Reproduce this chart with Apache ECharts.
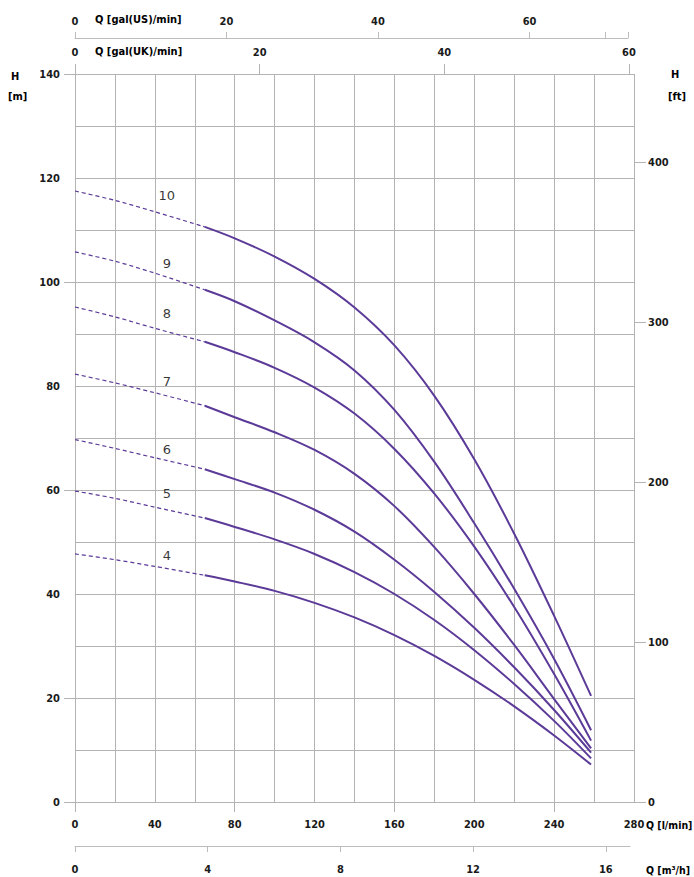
<!DOCTYPE html>
<html>
<head>
<meta charset="utf-8">
<title>Pump performance curves</title>
<script src="https://cdn.jsdelivr.net/npm/echarts@6/dist/echarts.min.js"></script>
<style>
  html, body { margin: 0; padding: 0; background: #fff; }
  #chart { width: 694px; height: 877px; }
</style>
</head>
<body>
<div id="chart"></div>
<script>
// flow points in l/min: dashed start section and solid working section
const dashFlow = [0, 20, 40, 65]
const solidFlow = [65, 80, 100, 120, 140, 160, 180, 200, 220, 240, 258.5]

// head in m for every curve (number of stages)
const curveNames = ['4', '5', '6', '7', '8', '9', '10']
const dashHeads = [
  [47.7, 46.6, 45.3, 43.6],
  [59.8, 58.4, 56.7, 54.6],
  [69.7, 68.0, 66.2, 64.0],
  [82.3, 80.6, 78.7, 76.2],
  [95.2, 93.3, 91.1, 88.5],
  [105.8, 104.0, 101.7, 98.5],
  [117.5, 115.7, 113.5, 110.6]
]
const solidHeads = [
  [43.6, 42.4, 40.6, 38.3, 35.5, 32.1, 28.1, 23.5, 18.4, 12.8, 7.2],
  [54.6, 52.9, 50.5, 47.7, 44.2, 40.0, 35.0, 29.2, 22.7, 15.6, 8.4],
  [64.0, 62.1, 59.5, 56.2, 52.0, 46.6, 40.4, 33.5, 25.9, 17.7, 9.5],
  [76.2, 74.0, 71.1, 67.7, 63.1, 56.9, 49.0, 40.0, 30.2, 19.8, 10.3],
  [88.5, 86.5, 83.5, 79.7, 74.7, 67.9, 59.3, 49.1, 37.5, 24.6, 11.8],
  [98.5, 96.3, 92.6, 88.4, 83.0, 75.4, 65.4, 53.6, 41.0, 27.5, 13.8],
  [110.6, 108.4, 104.9, 100.6, 95.1, 87.8, 78.1, 65.9, 51.6, 35.8, 20.4]
]
// where the curve numbers sit (l/min, m)
const labelFlow = [46, 46, 46, 46, 46, 46, 46]
const labelHead = [47.5, 59.4, 67.8, 80.8, 94.0, 103.6, 116.6]

// axis tick / label values
const lpmLabels = [0, 40, 80, 120, 160, 200, 240, 280]
const lpmTicks = [0, 80, 160, 240]
const mLabels = [0, 20, 40, 60, 80, 100, 120, 140]
const mTicks = [0, 20, 60, 100, 140]
const ftTicks = [0, 100, 200, 300, 400]
const galUsLabels = [0, 20, 40, 60]
const galUsTicks = [0, 20, 40, 60, 70, 73]
const galUkTicks = [0, 20, 40, 60]
const m3hTicks = [0, 4, 8, 12, 16]

const FONT = "'Liberation Sans Narrow', 'DejaVu Sans Condensed', sans-serif"
const GRID_COLOR = '#b3b3b3'
const CURVE_COLOR = '#5b3a98'

const labelStyle = {
  fontFamily: FONT,
  fontSize: 11,
  fontWeight: 'bold',
  color: '#1a1a1a'
}
const nameStyle = Object.assign({}, labelStyle, { fontSize: 10.5 })

const chart = echarts.init(document.getElementById('chart'), null, { renderer: 'svg' })

const series = []
curveNames.forEach((name, i) => {
  series.push({
    name: name + ' dashed',
    type: 'line',
    xAxisIndex: 0,
    yAxisIndex: 0,
    showSymbol: false,
    smooth: 0.3,
    lineStyle: { color: CURVE_COLOR, width: 1.2, type: [4, 3] },
    data: dashFlow.map((q, k) => [q, dashHeads[i][k]])
  })
  series.push({
    name: name,
    type: 'line',
    xAxisIndex: 0,
    yAxisIndex: 0,
    showSymbol: false,
    smooth: 0.35,
    lineStyle: { color: CURVE_COLOR, width: 2 },
    data: solidFlow.map((q, k) => [q, solidHeads[i][k]])
  })
})
series.push({
  type: 'scatter',
  xAxisIndex: 0,
  yAxisIndex: 0,
  symbolSize: 1,
  itemStyle: { color: 'transparent' },
  label: {
    show: true,
    position: 'inside',
    fontFamily: "'DejaVu Sans', sans-serif",
    fontSize: 13,
    color: '#000',
    textBorderWidth: 0,
    formatter: p => p.value[2]
  },
  data: curveNames.map((n, i) => [labelFlow[i], labelHead[i], n])
})

const hiddenY = (gridIndex) => ({
  type: 'value', gridIndex: gridIndex, show: false, min: 0, max: 1
})

const option = {
  animation: false,
  backgroundColor: '#fff',
  grid: [
    // main plot
    { left: 75, top: 74, width: 559, height: 728 },
    // gal(US) axis line on top
    { left: 75, top: 37, width: 553, height: 1 },
    // gal(UK) ticks on the plot top edge
    { left: 75, top: 74, width: 554, height: 1 },
    // m3/h axis below
    { left: 75, top: 845, width: 555, height: 1 },
    // background grid lines, same box as the main plot
    { left: 75, top: 74, width: 559, height: 728 }
  ],
  xAxis: [
    {
      type: 'value',
      gridIndex: 0,
      position: 'bottom',
      min: 0,
      max: 280,
      interval: 20,
      axisLine: { show: true, lineStyle: { color: GRID_COLOR, width: 1 } },
      axisTick: { show: true, length: 10, customValues: lpmTicks, lineStyle: { color: GRID_COLOR } },
      axisLabel: Object.assign({ margin: 17, customValues: lpmLabels }, labelStyle),
      splitLine: { show: false }
    },
    {
      type: 'value',
      gridIndex: 1,
      position: 'top',
      min: 0,
      max: 73,
      axisLine: { show: true, lineStyle: { color: '#bcbcbc', width: 1 } },
      axisTick: { show: true, length: 6, customValues: galUsTicks, lineStyle: { color: '#bcbcbc' } },
      axisLabel: Object.assign({ margin: 10, customValues: galUsLabels }, labelStyle),
      splitLine: { show: false }
    },
    {
      type: 'value',
      gridIndex: 2,
      position: 'top',
      min: 0,
      max: 60,
      axisLine: { show: false },
      axisTick: { show: true, length: 11, customValues: galUkTicks, lineStyle: { color: GRID_COLOR } },
      axisLabel: Object.assign({ margin: 16, customValues: galUkTicks }, labelStyle),
      splitLine: { show: false }
    },
    {
      type: 'value',
      gridIndex: 3,
      position: 'bottom',
      min: 0,
      max: 16.73,
      axisLine: { show: true, lineStyle: { color: '#bcbcbc', width: 1 } },
      axisTick: { show: true, length: 6, customValues: m3hTicks, lineStyle: { color: '#bcbcbc' } },
      axisLabel: Object.assign({ margin: 18, customValues: m3hTicks }, labelStyle),
      splitLine: { show: false }
    },
    // vertical grid lines every 20 l/min
    {
      type: 'value',
      gridIndex: 4,
      min: 0,
      max: 280,
      interval: 20,
      axisLine: { show: false },
      axisTick: { show: false },
      axisLabel: { show: false },
      splitLine: { show: true, lineStyle: { color: GRID_COLOR, width: 1 } }
    }
  ],
  yAxis: [
    {
      type: 'value',
      gridIndex: 0,
      position: 'left',
      min: 0,
      max: 140,
      interval: 10,
      axisLine: { show: true, lineStyle: { color: GRID_COLOR, width: 1 } },
      axisTick: { show: true, length: 11, customValues: mTicks, lineStyle: { color: GRID_COLOR } },
      axisLabel: Object.assign({ margin: 15, customValues: mLabels }, labelStyle),
      splitLine: { show: false }
    },
    {
      type: 'value',
      gridIndex: 0,
      position: 'right',
      min: 0,
      max: 455,
      axisLine: { show: false },
      axisTick: { show: true, length: 12, customValues: ftTicks, lineStyle: { color: GRID_COLOR } },
      axisLabel: Object.assign({ margin: 14, customValues: ftTicks }, labelStyle),
      splitLine: { show: false }
    },
    hiddenY(1),
    hiddenY(2),
    hiddenY(3),
    // horizontal grid lines every 10 m
    {
      type: 'value',
      gridIndex: 4,
      min: 0,
      max: 140,
      interval: 10,
      axisLine: { show: false },
      axisTick: { show: false },
      axisLabel: { show: false },
      splitLine: { show: true, lineStyle: { color: GRID_COLOR, width: 1 } }
    }
  ],
  graphic: [
    { type: 'text', left: 11, top: 71, style: Object.assign({ text: 'H' }, labelStyle) },
    { type: 'text', left: 8, top: 91, style: Object.assign({ text: '[m]' }, labelStyle) },
    { type: 'text', left: 671, top: 69, style: Object.assign({ text: 'H' }, labelStyle) },
    { type: 'text', left: 668, top: 91, style: Object.assign({ text: '[ft]' }, labelStyle) },
    { type: 'text', left: 95, top: 14, style: Object.assign({ text: 'Q [gal(US)/min]' }, labelStyle) },
    { type: 'text', left: 95, top: 46, style: Object.assign({ text: 'Q [gal(UK)/min]' }, labelStyle) },
    { type: 'text', left: 646, top: 819, style: Object.assign({ text: 'Q [l/min]' }, nameStyle) },
    { type: 'text', left: 646, top: 864, style: Object.assign({ text: 'Q [m³/h]' }, nameStyle) }
  ],
  series: series
}

chart.setOption(option)
</script>
</body>
</html>
